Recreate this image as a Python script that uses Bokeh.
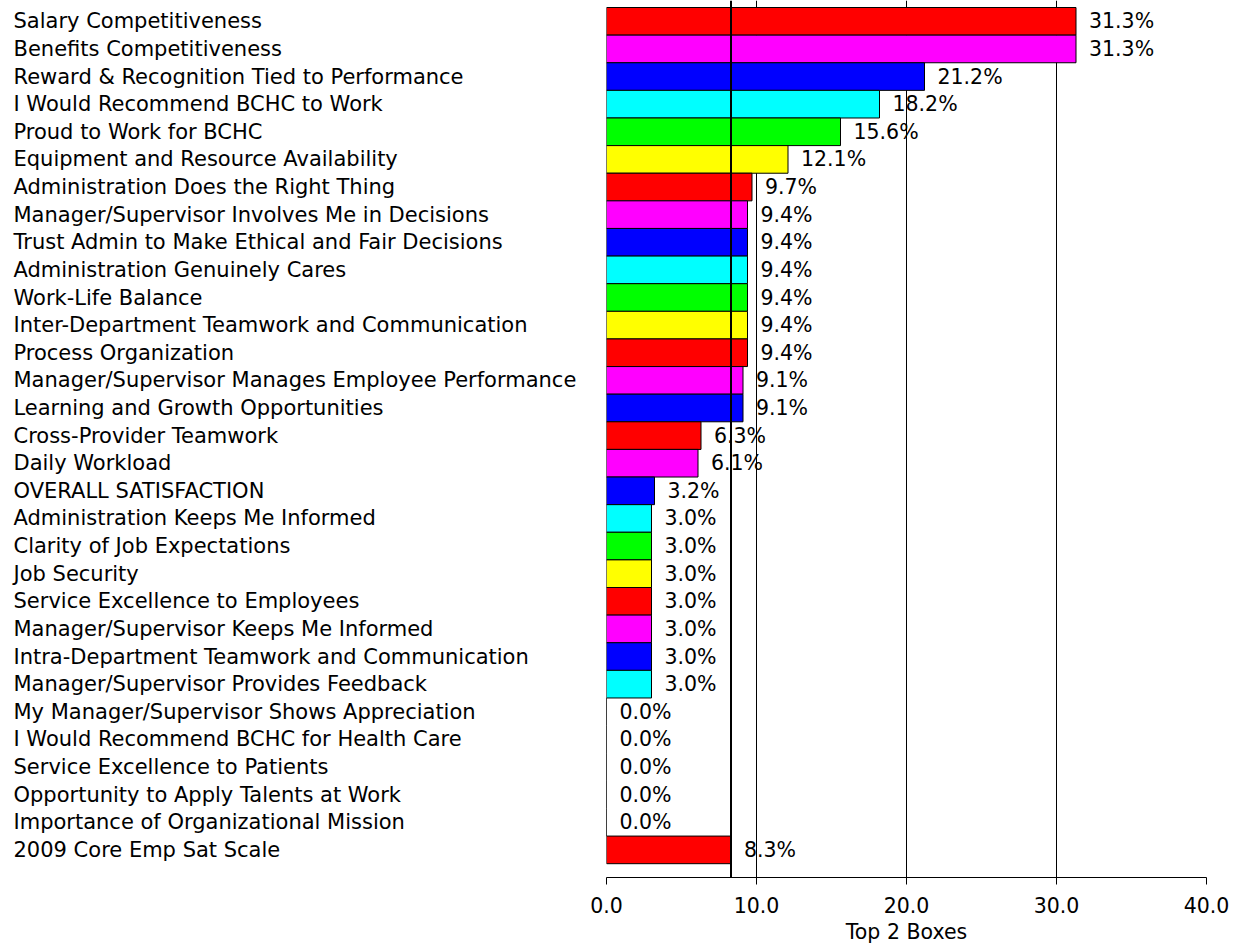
from bokeh.plotting import figure
from bokeh.layouts import row
from bokeh.models import Range1d, FixedTicker, NumeralTickFormatter, Span, ColumnDataSource
from bokeh.core.properties import value
from bokeh.embed import file_html
from bokeh.resources import INLINE

categories = [
    "Salary Competitiveness",
    "Benefits Competitiveness",
    "Reward & Recognition Tied to Performance",
    "I Would Recommend BCHC to Work",
    "Proud to Work for BCHC",
    "Equipment and Resource Availability",
    "Administration Does the Right Thing",
    "Manager/Supervisor Involves Me in Decisions",
    "Trust Admin to Make Ethical and Fair Decisions",
    "Administration Genuinely Cares",
    "Work-Life Balance",
    "Inter-Department Teamwork and Communication",
    "Process Organization",
    "Manager/Supervisor Manages Employee Performance",
    "Learning and Growth Opportunities",
    "Cross-Provider Teamwork",
    "Daily Workload",
    "OVERALL SATISFACTION",
    "Administration Keeps Me Informed",
    "Clarity of Job Expectations",
    "Job Security",
    "Service Excellence to Employees",
    "Manager/Supervisor Keeps Me Informed",
    "Intra-Department Teamwork and Communication",
    "Manager/Supervisor Provides Feedback",
    "My Manager/Supervisor Shows Appreciation",
    "I Would Recommend BCHC for Health Care",
    "Service Excellence to Patients",
    "Opportunity to Apply Talents at Work",
    "Importance of Organizational Mission",
    "2009 Core Emp Sat Scale",
]
values = [31.3, 31.3, 21.2, 18.2, 15.6, 12.1, 9.7, 9.4, 9.4, 9.4, 9.4, 9.4, 9.4,
          9.1, 9.1, 6.3, 6.1, 3.2, 3.0, 3.0, 3.0, 3.0, 3.0, 3.0, 3.0,
          0.0, 0.0, 0.0, 0.0, 0.0, 8.3]
bar_colors = ["#FF0000", "#FF00FF", "#0000FF", "#00FFFF", "#00FF00", "#FFFF00",
              "#FF0000", "#FF00FF", "#0000FF", "#00FFFF", "#00FF00", "#FFFF00",
              "#FF0000", "#FF00FF", "#0000FF",
              "#FF0000", "#FF00FF", "#0000FF", "#00FFFF", "#00FF00", "#FFFF00",
              "#FF0000", "#FF00FF", "#0000FF", "#00FFFF",
              "#00FF00", "#FFFF00", "#FF0000", "#FF00FF", "#0000FF",
              "#FF0000"]
reference_value = 8.3
x_ticks = [0, 10, 20, 30, 40]
x_title = "Top 2 Boxes"

FONT = "DejaVu Sans"
CAT_FS = "21px"
FS = "20.5px"

n = len(categories)
src = ColumnDataSource(dict(
    y=list(range(n)),
    cat=categories,
    val=values,
    color=bar_colors,
    lbl=[f"{v:.1f}%" for v in values],
    lx=[13] * n,
))

y_range = Range1d(start=n, end=-0.754)

FRAME_H = 877

left = figure(frame_width=586, frame_height=FRAME_H, x_range=Range1d(0, 586), y_range=y_range,
              output_backend="svg", toolbar_location=None,
              min_border_left=0, min_border_right=0, min_border_top=0, min_border_bottom=0)
left.axis.visible = False
left.grid.visible = False
left.outline_line_color = None
left.text(x="lx", y="y", text="cat", source=src, text_align="left", text_baseline="middle",
          text_font=value(FONT), text_font_size=CAT_FS, text_color="black")

p = figure(frame_width=600, frame_height=FRAME_H, x_range=Range1d(0, 40), y_range=y_range,
           output_backend="svg", toolbar_location=None,
           min_border_left=20, min_border_right=28, min_border_top=0, min_border_bottom=0)
p.outline_line_color = None
p.yaxis.visible = False
p.ygrid.visible = False
p.xgrid.ticker = FixedTicker(ticks=x_ticks)
p.xgrid.grid_line_color = "black"
p.xgrid.grid_line_width = 1
p.xgrid.grid_line_alpha = 1.0

p.hbar(y="y", left=0, right="val", height=1.0, source=src, fill_color="color",
       line_color="black", line_width=1)

p.add_layout(Span(location=reference_value, dimension="height", line_color="black", line_width=2))

p.text(x="val", y="y", text="lbl", source=src, x_offset=13, text_align="left",
       text_baseline="middle", text_font=value(FONT), text_font_size=FS, text_color="black")

xa = p.xaxis[0]
xa.ticker = FixedTicker(ticks=x_ticks)
xa.formatter = NumeralTickFormatter(format="0.0")
xa.axis_line_color = "black"
xa.major_tick_line_color = "black"
xa.major_tick_in = 0
xa.major_tick_out = 7
xa.minor_tick_line_color = None
xa.major_label_standoff = 12
xa.major_label_text_font = FONT
xa.major_label_text_font_size = FS
xa.major_label_text_color = "black"
xa.axis_label = x_title
xa.axis_label_text_font = FONT
xa.axis_label_text_font_size = FS
xa.axis_label_text_font_style = "normal"
xa.axis_label_text_color = "black"
xa.axis_label_standoff = 4

layout = row(left, p, spacing=0)
open("out.html", "w").write(file_html(layout, INLINE))
